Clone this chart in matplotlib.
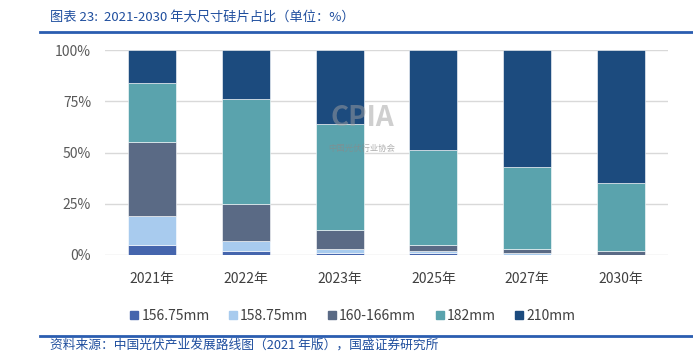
import matplotlib
matplotlib.use("Agg")
import matplotlib.pyplot as plt
from matplotlib.lines import Line2D
import numpy as np

plt.rcParams['font.family'] = ['Noto Sans CJK SC', 'DejaVu Sans']

categories = ["2021年", "2022年", "2023年", "2025年", "2027年", "2030年"]
series_names = ["156.75mm", "158.75mm", "160-166mm", "182mm", "210mm"]
s15675 = [5, 2, 1, 1, 0, 0]
s15875 = [14, 5, 2, 1, 1, 0]
s160166 = [36, 18, 9, 3, 2, 2]
s182 = [29, 51, 52, 46, 40, 33]
s210 = [16, 24, 36, 49, 57, 65]
yticks = [0, 25, 50, 75, 100]
ytick_labels = ["0%", "25%", "50%", "75%", "100%"]

colors = ["#4565AD", "#A8CBEE", "#5A6A85", "#5AA3AD", "#1C4B7E"]
W, H = 693, 354
fig = plt.figure(figsize=(W / 100, H / 100), dpi=100)
ax = fig.add_axes([105 / W, 1 - 255 / H, 563 / W, 205 / H])

x = np.arange(len(categories))
bottom = np.zeros(len(categories))
for name, vals, c in zip(series_names, [s15675, s15875, s160166, s182, s210], colors):
    ax.bar(x, vals, 0.51, bottom=bottom, color=c, edgecolor='white', linewidth=0.4, zorder=3)
    bottom += np.array(vals)

ax.set_xlim(-0.5, len(categories) - 0.5)
ax.set_ylim(0, 100)
ax.set_yticks(yticks)
ax.set_yticklabels(ytick_labels, fontsize=10, color="#595959")
ax.set_xticks(x)
ax.set_xticklabels(categories, fontsize=10, color="#404040")
ax.tick_params(length=0, pad=10)
ax.tick_params(axis='x', pad=12)
for s in ax.spines.values():
    s.set_visible(False)
ax.grid(axis='y', color="#D9D9D9", linewidth=1, zorder=0)

# watermark
fig.text(362 / W, 1 - 118 / H, "CPIA", fontsize=20, fontweight='bold', color='#a0a0a0',
         alpha=0.5, ha='center', va='center', zorder=10)
fig.text(362 / W, 1 - 148 / H, "中国光伏行业协会", fontsize=6, color='#8a8a8a',
         alpha=0.7, ha='center', va='center', zorder=10)

handles = [Line2D([], [], marker='s', linestyle='', markersize=6, color=c) for c in colors]
fig.legend(handles, series_names, loc='center', bbox_to_anchor=(352 / W, 1 - 316 / H),
           ncol=5, frameon=False, fontsize=10, handletextpad=0.1, columnspacing=1.3,
           handlelength=0.8, labelcolor="#404040")

# header / footer
title_color = "#1F4E9E"
fig.add_artist(Line2D([40 / W, 1], [1 - 32 / H, 1 - 32 / H], color="#2A5DB0", linewidth=2))
fig.add_artist(Line2D([40 / W, 1], [1 - 336 / H, 1 - 336 / H], color="#2A5DB0", linewidth=2))
fig.text(50 / W, 1 - 17 / H, "图表 23:  2021-2030 年大尺寸硅片占比（单位：%）", fontsize=9.5,
         color=title_color, style='italic', va='center', ha='left')
fig.text(50 / W, 1 - 345 / H, "资料来源：中国光伏产业发展路线图（2021 年版），国盛证券研究所", fontsize=9.2,
         color=title_color, style='italic', va='center', ha='left')

fig.savefig("out.png", dpi=100)
